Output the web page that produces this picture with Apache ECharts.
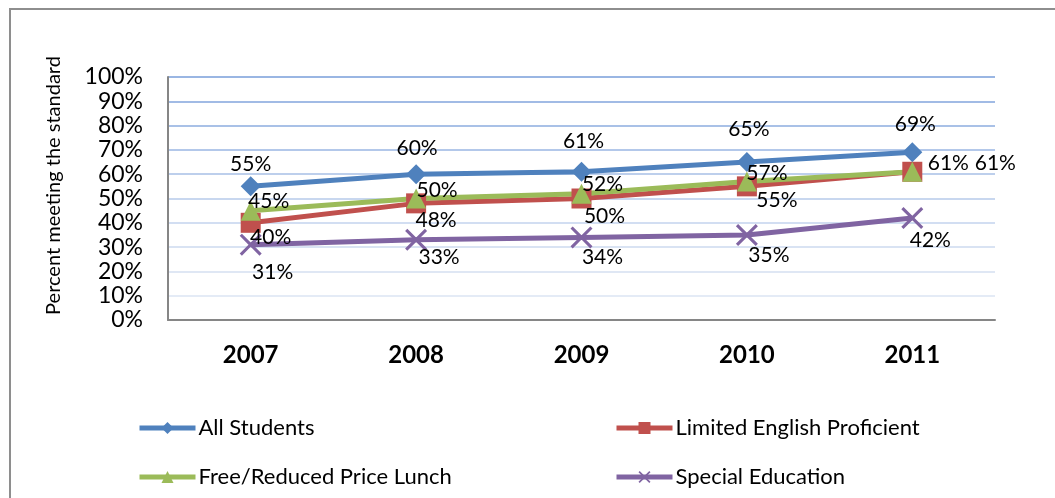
<!DOCTYPE html>
<html>
<head>
<meta charset="utf-8">
<script src="https://cdn.jsdelivr.net/npm/echarts@6/dist/echarts.min.js"></script>
<style>
  html, body { margin: 0; padding: 0; background: #fff; }
  #chart { width: 1055px; height: 498px; }
</style>
</head>
<body>
<div id="chart"></div>
<script>
const years = ['2007', '2008', '2009', '2010', '2011']
const allStudents = [55, 60, 61, 65, 69]
const limitedEnglish = [40, 48, 50, 55, 61]
const freeLunch = [45, 50, 52, 57, 61]
const specialEd = [31, 33, 34, 35, 42]

const FONT = 'Lato, "Open Sans", sans-serif'
const crossPath = 'path://M0,1L1,0L5,4L9,0L10,1L6,5L10,9L9,10L5,6L1,10L0,9L4,5Z'

// label placement next to each point (pixels from the marker centre)
const labelOffsets = {
  all: [[0, -22], [1, -26], [2, -31], [2, -33], [3, -28]],
  lep: [[20, 14], [20, 17], [23, 18], [30, 14], [36, -9]],
  frl: [[18, -9], [21, -8], [21, -9], [20, -8], [83, -9]],
  sped: [[22, 28], [23, 17], [21, 20], [22, 20], [18, 22]]
}

// gridline shades, from 0% up to 100%
const gridColors = ['#e6ecf5', '#e4ebf6', '#dfe7f4', '#d9e3f3', '#d2def2',
  '#c8d7ef', '#bdcfec', '#b3c8ea', '#a9c1e7', '#a1bbe5', '#9ab6e3']

const makeSeries = (name, values, color, symbol, offsets) => ({
  name,
  type: 'line',
  data: values.map((v, i) => ({
    value: v,
    label: { offset: offsets[i] }
  })),
  symbol,
  symbolSize: symbol === crossPath ? 22 : 20,
  lineStyle: { color, width: 5 },
  itemStyle: { color },
  label: {
    show: true,
    position: 'inside',
    formatter: '{c}%',
    color: '#000',
    fontFamily: FONT,
    fontSize: 21
  },
  z: 3
})

const legendBase = {
  orient: 'vertical',
  top: 412,
  itemWidth: 56,
  itemHeight: 15,
  itemGap: 27,
  lineStyle: { width: 5 },
  textStyle: { fontFamily: FONT, fontSize: 22, color: '#000', padding: [0, 0, 0, -2] }
}

const chart = echarts.init(document.getElementById('chart'))

chart.setOption({
  animation: false,
  grid: { left: 168, right: 60, top: 77, bottom: 178 },
  graphic: [
    {
      type: 'rect',
      shape: { x: 10, y: 9, width: 1100, height: 600 },
      style: { fill: 'none', stroke: '#8e8e8e', lineWidth: 2 },
      silent: true
    }
  ],
  legend: [
    Object.assign({}, legendBase, {
      data: ['All Students', 'Free/Reduced Price Lunch'],
      left: 132
    }),
    Object.assign({}, legendBase, {
      data: ['Limited English Proficient', 'Special Education'],
      left: 609
    })
  ],
  xAxis: {
    type: 'category',
    data: years,
    axisLine: { lineStyle: { color: '#868686', width: 2 } },
    axisTick: { show: false },
    axisLabel: {
      margin: 23,
      color: '#000',
      fontFamily: FONT,
      fontWeight: 'bold',
      fontSize: 24
    }
  },
  yAxis: {
    type: 'value',
    min: 0,
    max: 100,
    interval: 10,
    name: 'Percent meeting the standard',
    nameLocation: 'middle',
    nameGap: 104,
    nameTextStyle: { fontFamily: FONT, fontSize: 20, color: '#000', padding: [0, 0, 0, 26] },
    axisLine: { show: true, lineStyle: { color: '#868686', width: 2 } },
    axisTick: { show: false },
    axisLabel: {
      formatter: '{value}%',
      margin: 25,
      color: '#000',
      fontFamily: FONT,
      fontSize: 23
    },
    splitLine: {
      show: true,
      lineStyle: { color: gridColors, width: 2 }
    }
  },
  series: [
    makeSeries('All Students', allStudents, '#4f81bd', 'diamond', labelOffsets.all),
    makeSeries('Limited English Proficient', limitedEnglish, '#c0504d', 'rect', labelOffsets.lep),
    makeSeries('Free/Reduced Price Lunch', freeLunch, '#9bbb59', 'triangle', labelOffsets.frl),
    makeSeries('Special Education', specialEd, '#8064a2', crossPath, labelOffsets.sped)
  ]
})
</script>
</body>
</html>
